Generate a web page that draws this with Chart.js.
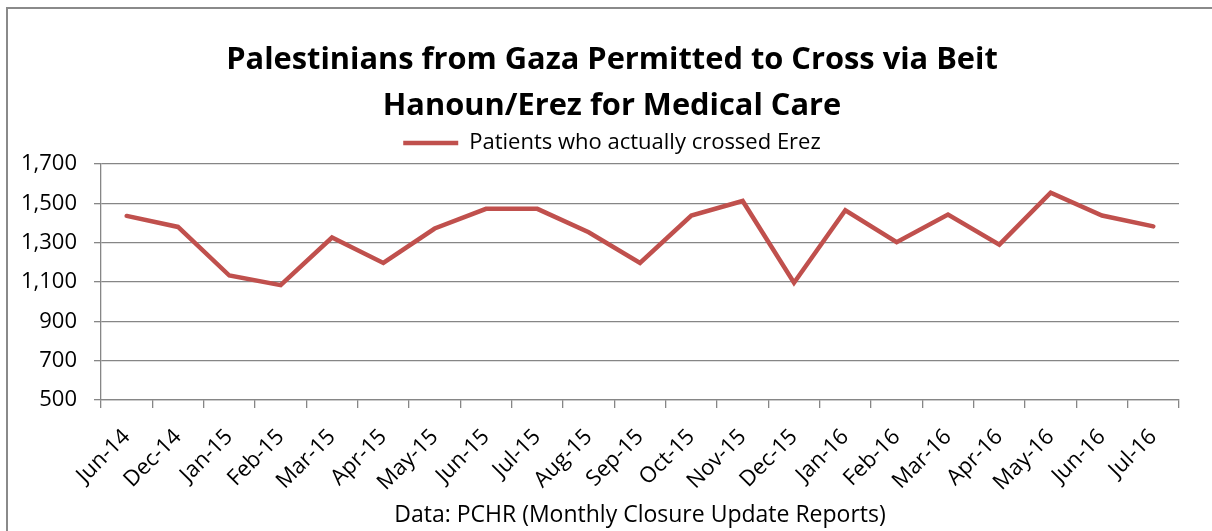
<!DOCTYPE html>
<html>
<head>
<meta charset="utf-8">
<script src="https://cdn.jsdelivr.net/npm/chart.js@4/dist/chart.umd.min.js"></script>
<style>
  html, body { margin: 0; padding: 0; background: #fff; overflow: hidden; }
  #wrap { position: relative; width: 1212px; height: 531px; }
  #frame { position: absolute; left: 6px; top: 7px; width: 1300px; height: 600px;
           border: 2px solid #8a8a8a; pointer-events: none; }
</style>
</head>
<body>
<div id="wrap">
  <canvas id="crossChart" width="1212" height="531"></canvas>
  <div id="frame"></div>
</div>
<script>
const months = ["Jun-14", "Dec-14", "Jan-15", "Feb-15", "Mar-15", "Apr-15", "May-15",
  "Jun-15", "Jul-15", "Aug-15", "Sep-15", "Oct-15", "Nov-15", "Dec-15", "Jan-16",
  "Feb-16", "Mar-16", "Apr-16", "May-16", "Jun-16", "Jul-16"];
const patients = [1436, 1380, 1133, 1084, 1326, 1197, 1372, 1472, 1472, 1353, 1197,
  1438, 1512, 1096, 1465, 1302, 1443, 1290, 1554, 1438, 1383];
const yTicks = [500, 700, 900, 1100, 1300, 1500, 1700];

const titleLines = ["Palestinians from Gaza Permitted to Cross via Beit", "Hanoun/Erez for Medical Care"];
const seriesName = "Patients who actually crossed Erez";
const sourceNote = "Data: PCHR (Monthly Closure Update Reports)";

const fontFamily = "'Open Sans', 'Noto Sans', sans-serif";
const gridGray = "#868686";

const ctx = document.getElementById("crossChart").getContext("2d");
window.lineChart = new Chart(ctx, {
  type: 'line',
  data: {
    labels: months,
    datasets: [{
      label: seriesName,
      data: patients,
      borderColor: '#C0504D',
      backgroundColor: '#C0504D',
      borderWidth: 4.5,
      borderCapStyle: 'round',
      pointRadius: 0,
      tension: 0
    }]
  },
  options: {
    responsive: false,
    animation: false,
    layout: { padding: { left: 12, right: 0, top: 0, bottom: 0 } },
    plugins: {
      title: {
        display: true,
        text: titleLines,
        color: '#000',
        font: { family: fontFamily, size: 30.8, weight: 'bold', lineHeight: 46 / 30.8 },
        padding: { top: 29, bottom: 0 }
      },
      legend: {
        display: true,
        labels: {
          usePointStyle: true,
          pointStyle: 'line',
          pointStyleWidth: 55,
          color: '#000',
          font: { family: fontFamily, size: 22 },
          padding: 3
        }
      },
      tooltip: { enabled: false }
    },
    scales: {
      x: {
        offset: true,
        grid: { drawOnChartArea: false, offset: true, tickLength: 8, color: gridGray, lineWidth: 1.3 },
        border: { color: gridGray, width: 1.3 },
        ticks: { color: '#000', font: { family: fontFamily, size: 22 }, minRotation: 45, maxRotation: 45, padding: 16 },
        title: {
          display: true,
          text: sourceNote,
          color: '#000',
          font: { family: fontFamily, size: 23 },
          padding: { top: 0, bottom: 2 }
        },
        afterFit(scale) {
          scale.height = 131;
          scale.paddingRight = 33;
        }
      },
      y: {
        min: 500,
        max: 1700,
        afterBuildTicks(scale) {
          scale.ticks = yTicks.map(v => ({ value: v }));
        },
        grid: { color: gridGray, lineWidth: 1.3, tickLength: 7 },
        border: { color: gridGray, width: 1.3 },
        ticks: { color: '#000', font: { family: fontFamily, size: 22 }, padding: 17 },
        afterFit(scale) {
          scale.width = 89;
          scale.paddingTop = 164;
        }
      }
    }
  }
});
</script>
</body>
</html>
